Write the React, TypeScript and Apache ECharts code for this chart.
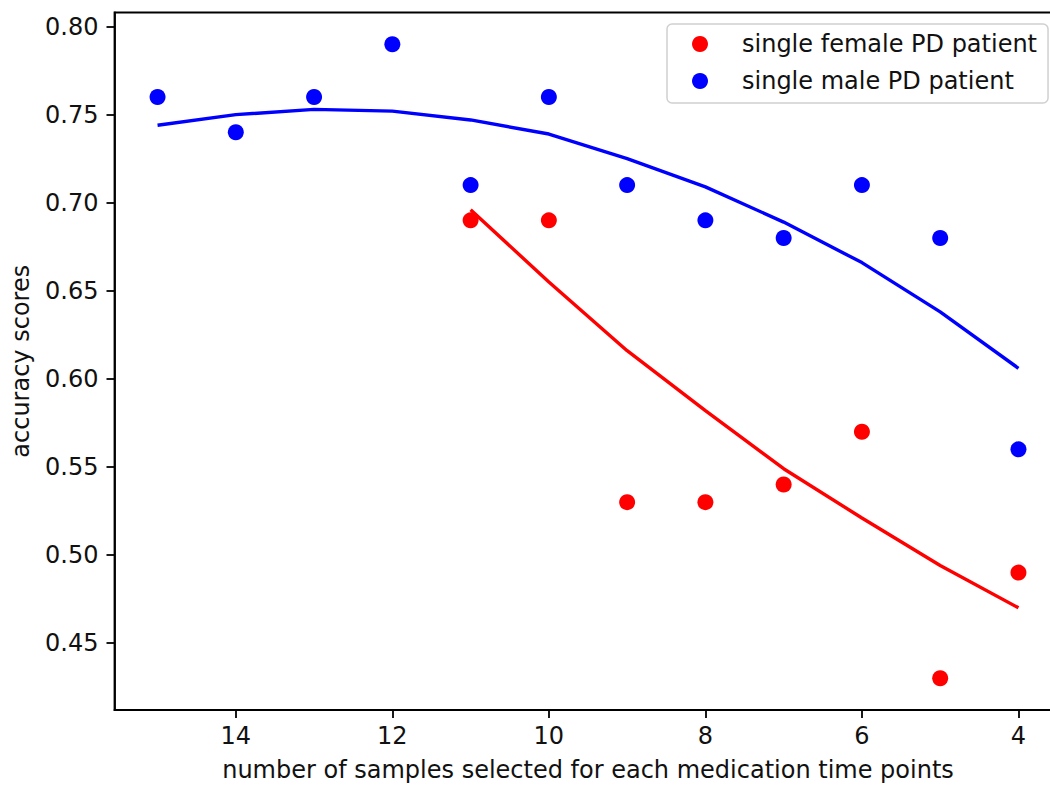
import React, { useEffect, useRef } from "react";
import * as echarts from "echarts";

// ---- data ----
const femaleSamples = [11, 10, 9, 8, 7, 6, 5, 4];
const femaleScores = [0.69, 0.69, 0.53, 0.53, 0.54, 0.57, 0.43, 0.49];
const femaleFit = [0.696, 0.655, 0.616, 0.582, 0.549, 0.521, 0.494, 0.47];

const maleSamples = [15, 14, 13, 12, 11, 10, 9, 8, 7, 6, 5, 4];
const maleScores = [0.76, 0.74, 0.76, 0.79, 0.71, 0.76, 0.71, 0.69, 0.68, 0.71, 0.68, 0.56];
const maleFit = [0.744, 0.750, 0.753, 0.752, 0.747, 0.739, 0.725, 0.709, 0.689, 0.666, 0.638, 0.606];

const xTicks = [4, 6, 8, 10, 12, 14];
const yTicks = [0.45, 0.5, 0.55, 0.6, 0.65, 0.7, 0.75, 0.8];

const femaleName = "single female PD patient";
const maleName = "single male PD patient";
const xName = "number of samples selected for each medication time points";
const yName = "accuracy scores";

const FONT = "DejaVu Sans";
const FS = 24;
const TXT = "#111";

const pairs = (xs: number[], ys: number[]) => xs.map((x, i) => [x, ys[i]]);

export default function App() {
  const ref = useRef<HTMLDivElement>(null);
  useEffect(() => {
    if (!ref.current) return;
    const chart = echarts.init(ref.current, undefined, { renderer: "svg" });
    const axisLine = { show: true, lineStyle: { color: "#000", width: 1.8 } };
    chart.setOption({
      animation: false,
      backgroundColor: "#fff",
      textStyle: { fontFamily: FONT },
      grid: {
        left: 114.5,
        top: 12.5,
        width: 947,
        height: 697.5,
        outerBoundsMode: "none",
        containLabel: false,
        show: true,
        borderColor: "#000",
        borderWidth: 1.8,
        backgroundColor: "transparent",
      },
      legend: {
        data: [femaleName, maleName],
        orient: "vertical",
        left: 667,
        top: 24,
        padding: [7, 11, 9, 25],
        itemWidth: 16,
        itemHeight: 16,
        itemGap: 11,
        icon: "circle",
        backgroundColor: "#fff",
        borderColor: "#d0d0d0",
        borderWidth: 1.5,
        borderRadius: 5,
        textStyle: {
          fontFamily: FONT,
          fontSize: FS,
          color: TXT,
          lineHeight: 26,
          padding: [0, 0, 0, 29],
        },
      },
      xAxis: {
        type: "value",
        inverse: true,
        min: 3.45,
        max: 15.55,
        axisLine,
        axisTick: {
          show: true,
          length: 8,
          customValues: xTicks,
          lineStyle: { color: "#000", width: 1.8 },
        },
        axisLabel: {
          customValues: xTicks,
          margin: 14,
          color: TXT,
          fontFamily: FONT,
          fontSize: FS,
        },
        splitLine: { show: false },
        name: xName,
        nameLocation: "middle",
        nameGap: 48,
        nameTextStyle: { color: TXT, fontFamily: FONT, fontSize: FS, lineHeight: 24 },
      },
      yAxis: {
        type: "value",
        min: 0.412,
        max: 0.808,
        axisLine,
        axisTick: {
          show: true,
          length: 8,
          customValues: yTicks,
          lineStyle: { color: "#000", width: 1.8 },
        },
        axisLabel: {
          customValues: yTicks,
          margin: 16,
          color: TXT,
          fontFamily: FONT,
          fontSize: FS,
          formatter: (v: number) => v.toFixed(2),
        },
        splitLine: { show: false },
        name: yName,
        nameLocation: "middle",
        nameGap: 82,
        nameTextStyle: { color: TXT, fontFamily: FONT, fontSize: FS },
      },
      series: [
        {
          name: femaleName,
          type: "scatter",
          data: pairs(femaleSamples, femaleScores),
          symbol: "circle",
          symbolSize: 16,
          itemStyle: { color: "#ff0000", opacity: 1 },
          z: 2,
        },
        {
          name: maleName,
          type: "scatter",
          data: pairs(maleSamples, maleScores),
          symbol: "circle",
          symbolSize: 16,
          itemStyle: { color: "#0000ff", opacity: 1 },
          z: 2,
        },
        {
          name: "female fit",
          type: "line",
          data: pairs(femaleSamples, femaleFit),
          showSymbol: false,
          symbol: "none",
          lineStyle: { color: "#ff0000", width: 3.4 },
          itemStyle: { color: "#ff0000" },
          z: 3,
        },
        {
          name: "male fit",
          type: "line",
          data: pairs(maleSamples, maleFit),
          showSymbol: false,
          symbol: "none",
          lineStyle: { color: "#0000ff", width: 3.4 },
          itemStyle: { color: "#0000ff" },
          z: 3,
        },
      ],
    });
    return () => chart.dispose();
  }, []);
  return (
    <div
      ref={ref}
      style={{ position: "absolute", left: 0, top: 0, width: 1050, height: 785 }}
    />
  );
}
